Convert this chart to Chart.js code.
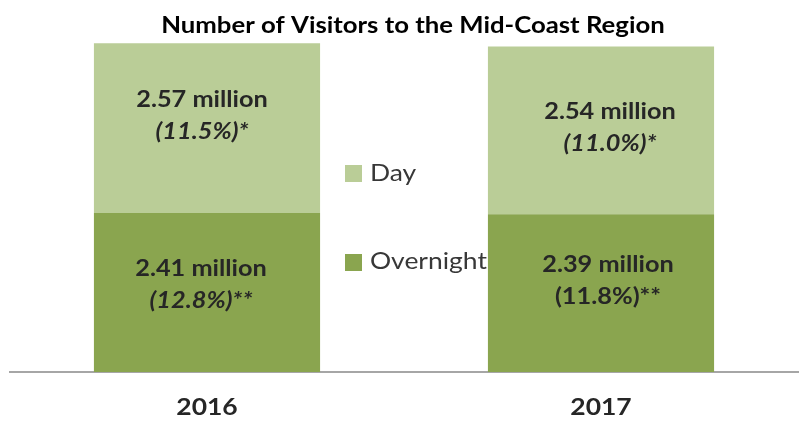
<!DOCTYPE html>
<html><head><meta charset="utf-8">
<script src="https://cdn.jsdelivr.net/npm/chart.js@4/dist/chart.umd.min.js"></script>
<style>html,body{margin:0;padding:0;background:#fff}#wrap{width:801px;height:433px}</style>
</head><body><div id="wrap"><canvas id="c" width="801" height="433"></canvas></div>
<script>
const years = ['2016', '2017'];
const overnight = [2.41, 2.39];
const day = [2.57, 2.54];
const overnightPct = ['(12.8%)**', '(11.8%)**'];
const dayPct = ['(11.5%)*', '(11.0%)*'];
const overnightPctItalic = [true, false];
const dayPctItalic = [true, true];
const seriesNames = ['Overnight', 'Day'];
const titleText = 'Number of Visitors to the Mid-Coast Region';

const FONT = 'Lato, "Open Sans", sans-serif';
const STRETCH = 1.15;
const colors = { overnight: '#8aa54f', day: '#bacd97' };
// style: per-segment label shifts [dataset][index]
const labelShiftY = [[-7.5, -12.5], [-12, -3]];
const labelShiftX = [[-6, 7], [-5, 9]];

function stretchText(ctx, text, x, y, font, color, sx, align) {
  ctx.save();
  ctx.font = font;
  ctx.fillStyle = color;
  ctx.textAlign = align || 'center';
  ctx.textBaseline = 'middle';
  ctx.translate(x, y);
  ctx.scale(sx, 1);
  ctx.fillText(text, 0, 0);
  ctx.restore();
}

const segLabels = {
  id: 'segLabels',
  afterDatasetsDraw(chart) {
    const ctx = chart.ctx;
    const pctArr = [overnightPct, dayPct];
    const itArr = [overnightPctItalic, dayPctItalic];
    const vals = [overnight, day];
    chart.data.datasets.forEach((ds, di) => {
      chart.getDatasetMeta(di).data.forEach((bar, i) => {
        const cy = (bar.y + bar.base) / 2 + labelShiftY[di][i];
        const cx = bar.x + labelShiftX[di][i];
        stretchText(ctx, vals[di][i].toFixed(2) + ' million', cx, cy - 16, 'bold 22px ' + FONT, '#262626', STRETCH);
        stretchText(ctx, pctArr[di][i], cx, cy + 16, (itArr[di][i] ? 'italic ' : '') + 'bold 22px ' + FONT, '#262626', STRETCH);
      });
    });
  }
};

const extras = {
  id: 'extras',
  afterDraw(chart) {
    const ctx = chart.ctx;
    // title
    stretchText(ctx, titleText, 413, 26, 'bold 22px ' + FONT, '#000000', 1.17);
    // category labels
    const xs = chart.scales.x;
    chart.data.labels.forEach((lab, i) => {
      stretchText(ctx, lab, xs.getPixelForTick(i), 408, 'bold 23px ' + FONT, '#262626', STRETCH);
    });
    // legend
    const items = [
      { text: chart.data.datasets[1].label, color: chart.data.datasets[1].backgroundColor, y: 173.5 },
      { text: chart.data.datasets[0].label, color: chart.data.datasets[0].backgroundColor, y: 262 }
    ];
    items.forEach(it => {
      ctx.fillStyle = it.color;
      ctx.fillRect(345, Math.round(it.y - 8.5), 17, 17);
      stretchText(ctx, it.text, 370, it.y, '23px ' + FONT, '#383838', STRETCH, 'left');
    });
  }
};

new Chart(document.getElementById('c'), {
  type: 'bar',
  data: {
    labels: years,
    datasets: [
      { label: seriesNames[0], data: overnight, backgroundColor: colors.overnight, borderWidth: 0 },
      { label: seriesNames[1], data: day, backgroundColor: colors.day, borderWidth: 0 }
    ]
  },
  options: {
    responsive: false,
    animation: false,
    devicePixelRatio: 1,
    layout: { padding: { left: 10, right: 3, top: 42, bottom: 0 } },
    datasets: { bar: { categoryPercentage: 1, barPercentage: 0.574 } },
    plugins: {
      legend: { display: false },
      tooltip: { enabled: false },
      title: { display: false }
    },
    scales: {
      x: {
        stacked: true,
        grid: { display: false, drawTicks: false },
        border: { display: true, color: '#a6a6a6', width: 2 },
        ticks: { display: false },
        afterFit(scale) { scale.height = 61; }
      },
      y: { stacked: true, display: false, min: 0, max: 5 }
    }
  },
  plugins: [segLabels, extras]
});
</script></body></html>
